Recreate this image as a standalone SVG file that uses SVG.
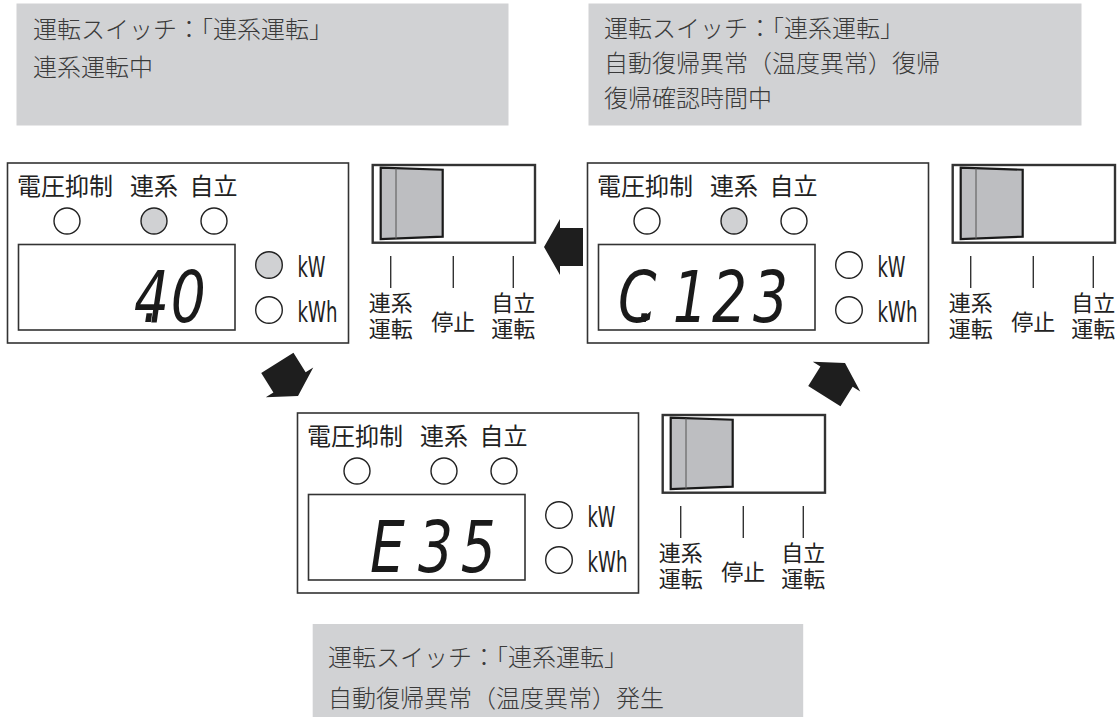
<svg xmlns="http://www.w3.org/2000/svg" width="1120" height="717" viewBox="0 0 1120 717">
<style>
.box{fill:#d1d2d4}
.bt{font-family:"Noto Sans CJK JP","Noto Sans CJK SC",sans-serif;font-size:24px;fill:#3a3a3a;font-weight:300}
.pl{fill:#fff;stroke:#333;stroke-width:1.6}
.lbl{font-family:"Noto Sans CJK JP","Noto Sans CJK SC",sans-serif;font-size:24px;fill:#222}
.led{fill:#fff;stroke:#222;stroke-width:1.4}
.on{fill:#d0d1d3}
.unit{font-family:"DejaVu Sans Condensed","DejaVu Sans",sans-serif;font-size:28px;fill:#222}
.seg{font-family:"DejaVu Sans Condensed","DejaVu Sans",sans-serif;font-size:72px;font-style:oblique;fill:#1a1a1a}
.sw{fill:#fff;stroke:#333;stroke-width:2.4}
.lever{fill:#bdbec1;stroke:#1a1a1a;stroke-width:2.2}
.lv{stroke:#666;stroke-width:1.2}
.tick{stroke:#333;stroke-width:1.4}
.swl{font-family:"Noto Sans CJK JP","Noto Sans CJK SC",sans-serif;font-size:22px;fill:#222;text-anchor:middle}
.arrow{fill:#1e1e1e}
</style>
<defs>
<polygon id="arr" points="0,0 -16,-28 -16,-19 -39,-19 -39,19 -16,19 -16,28"/>
</defs>

<g id="note-running">
<rect class="box" x="16.5" y="3.5" width="492" height="122"/>
<text class="bt" x="33" y="38">運転スイッチ：「連系運転」</text>
<text class="bt" x="33" y="76">連系運転中</text>
</g>

<g id="note-recover">
<rect class="box" x="588.5" y="3.5" width="493" height="122"/>
<text class="bt" x="604" y="37">運転スイッチ：「連系運転」</text>
<text class="bt" x="604" y="72">自動復帰異常（温度異常）復帰</text>
<text class="bt" x="604" y="107">復帰確認時間中</text>
</g>

<g id="note-error">
<rect class="box" x="312.7" y="624" width="490.5" height="93"/>
<text class="bt" x="328" y="666">運転スイッチ：「連系運転」</text>
<text class="bt" x="328" y="707">自動復帰異常（温度異常）発生</text>
</g>

<g id="panel-running">
<rect class="pl" x="7.5" y="163" width="341" height="180"/>
<text class="lbl" x="17" y="195">電圧抑制</text>
<text class="lbl" x="130" y="195">連系</text>
<text class="lbl" x="189.5" y="195">自立</text>
<circle class="led" cx="67" cy="221" r="13"/>
<circle class="led on" cx="154" cy="221" r="13"/>
<circle class="led" cx="214" cy="221" r="13"/>
<rect class="pl" x="18.5" y="244.5" width="216.5" height="85.5"/>
<text class="seg" transform="translate(0,322) scale(0.85,1)" x="157.6 167 201" y="0">4.0</text>
<circle class="led on" cx="269" cy="265" r="13.3"/>
<circle class="led" cx="269" cy="310" r="13.3"/>
<text class="unit" x="297.5" y="277" textLength="28" lengthAdjust="spacingAndGlyphs">kW</text>
<text class="unit" x="297.5" y="322" textLength="40" lengthAdjust="spacingAndGlyphs">kWh</text>
<rect class="sw" x="372.7" y="165" width="162.3" height="77.7"/>
<polygon class="lever" points="380.7,167.7 442.7,169.7 442.7,236.7 380.7,239"/>
<line class="lv" x1="396" y1="168.5" x2="396" y2="238.5"/>
<line class="tick" x1="390.7" y1="256" x2="390.7" y2="288"/>
<line class="tick" x1="453.3" y1="256" x2="453.3" y2="288"/>
<line class="tick" x1="513.3" y1="256" x2="513.3" y2="288"/>
<text class="swl"><tspan x="390.7" y="311">連系</tspan><tspan x="390.7" y="337">運転</tspan></text>
<text class="swl" x="453.3" y="330">停止</text>
<text class="swl"><tspan x="513.3" y="311">自立</tspan><tspan x="513.3" y="337">運転</tspan></text>
</g>

<g id="panel-recover" transform="translate(580,0)">
<rect class="pl" x="7.5" y="163" width="341" height="180"/>
<text class="lbl" x="17" y="195">電圧抑制</text>
<text class="lbl" x="130" y="195">連系</text>
<text class="lbl" x="189.5" y="195">自立</text>
<circle class="led" cx="67" cy="221" r="13"/>
<circle class="led on" cx="154" cy="221" r="13"/>
<circle class="led" cx="214" cy="221" r="13"/>
<rect class="pl" x="18.5" y="244.5" width="216.5" height="85.5"/>
<text class="seg" transform="translate(0,322) scale(0.85,1)" x="44.7 67 109 155.3 203.5" y="0">C.123</text>
<circle class="led" cx="269" cy="265" r="13.3"/>
<circle class="led" cx="269" cy="310" r="13.3"/>
<text class="unit" x="297.5" y="277" textLength="28" lengthAdjust="spacingAndGlyphs">kW</text>
<text class="unit" x="297.5" y="322" textLength="40" lengthAdjust="spacingAndGlyphs">kWh</text>
<rect class="sw" x="372.7" y="165" width="162.3" height="77.7"/>
<polygon class="lever" points="380.7,167.7 442.7,169.7 442.7,236.7 380.7,239"/>
<line class="lv" x1="396" y1="168.5" x2="396" y2="238.5"/>
<line class="tick" x1="390.7" y1="256" x2="390.7" y2="288"/>
<line class="tick" x1="453.3" y1="256" x2="453.3" y2="288"/>
<line class="tick" x1="513.3" y1="256" x2="513.3" y2="288"/>
<text class="swl"><tspan x="390.7" y="311">連系</tspan><tspan x="390.7" y="337">運転</tspan></text>
<text class="swl" x="453.3" y="330">停止</text>
<text class="swl"><tspan x="513.3" y="311">自立</tspan><tspan x="513.3" y="337">運転</tspan></text>
</g>

<g id="panel-error" transform="translate(290,250)">
<rect class="pl" x="7.5" y="163" width="341" height="180"/>
<text class="lbl" x="17" y="195">電圧抑制</text>
<text class="lbl" x="130" y="195">連系</text>
<text class="lbl" x="189.5" y="195">自立</text>
<circle class="led" cx="67" cy="221" r="13"/>
<circle class="led" cx="154" cy="221" r="13"/>
<circle class="led" cx="214" cy="221" r="13"/>
<rect class="pl" x="18.5" y="244.5" width="216.5" height="85.5"/>
<text class="seg" transform="translate(0,322) scale(0.85,1)" x="94 150.6 201" y="0">E35</text>
<circle class="led" cx="269" cy="265" r="13.3"/>
<circle class="led" cx="269" cy="310" r="13.3"/>
<text class="unit" x="297.5" y="277" textLength="28" lengthAdjust="spacingAndGlyphs">kW</text>
<text class="unit" x="297.5" y="322" textLength="40" lengthAdjust="spacingAndGlyphs">kWh</text>
<rect class="sw" x="372.7" y="165" width="162.3" height="77.7"/>
<polygon class="lever" points="380.7,167.7 442.7,169.7 442.7,236.7 380.7,239"/>
<line class="lv" x1="396" y1="168.5" x2="396" y2="238.5"/>
<line class="tick" x1="390.7" y1="256" x2="390.7" y2="288"/>
<line class="tick" x1="453.3" y1="256" x2="453.3" y2="288"/>
<line class="tick" x1="513.3" y1="256" x2="513.3" y2="288"/>
<text class="swl"><tspan x="390.7" y="311">連系</tspan><tspan x="390.7" y="337">運転</tspan></text>
<text class="swl" x="453.3" y="330">停止</text>
<text class="swl"><tspan x="513.3" y="311">自立</tspan><tspan x="513.3" y="337">運転</tspan></text>
</g>

<g id="connectors">
<use href="#arr" class="arrow" transform="translate(544,247) rotate(180)"/>
<use href="#arr" class="arrow" transform="translate(298,396) rotate(58)"/>
<use href="#arr" class="arrow" transform="translate(845,363) rotate(-58)"/>
</g>
</svg>
